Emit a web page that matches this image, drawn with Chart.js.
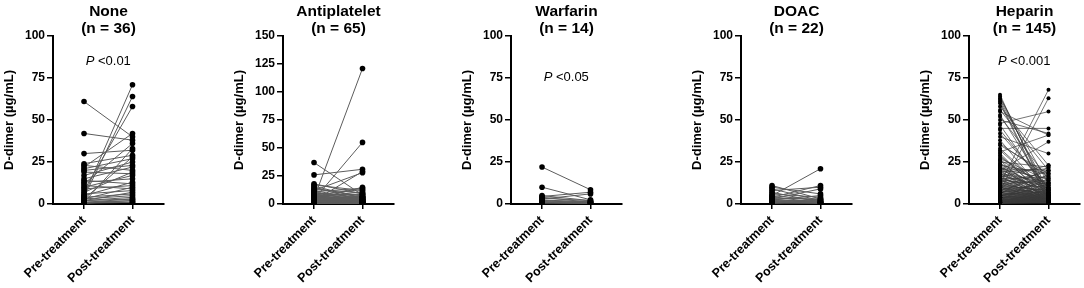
<!DOCTYPE html>
<html>
<head>
<meta charset="utf-8">
<script src="https://cdn.jsdelivr.net/npm/chart.js@4/dist/chart.umd.min.js"></script>
<style>
body { margin: 0; background: #fff; }
#wrap { position: relative; width: 1084px; height: 288px; }
.panel { position: absolute; top: 0; width: 168px; height: 288px; }
</style>
</head>
<body>
<div id="wrap">
  <div class="panel" style="left:0px"><canvas id="c0"></canvas></div>
  <div class="panel" style="left:230px"><canvas id="c1"></canvas></div>
  <div class="panel" style="left:458px"><canvas id="c2"></canvas></div>
  <div class="panel" style="left:688px"><canvas id="c3"></canvas></div>
  <div class="panel" style="left:916px"><canvas id="c4"></canvas></div>
</div>
<script>
var timepoints = ["Pre-treatment", "Post-treatment"];
var groupNames = ["None", "Antiplatelet", "Warfarin", "DOAC", "Heparin"];
var groupN = [36, 65, 14, 22, 145];
var pLabels = ["<0.01", "", "<0.05", "", "<0.001"];
var yMax = [100, 150, 100, 100, 100];

// paired D-dimer values, one entry per patient
var nonePre = [61, 42, 30, 24, 23, 22, 21, 20, 19, 17, 15, 14, 13, 12, 11, 10, 9, 8, 7, 6,
  5, 5, 4, 4, 3, 3, 3, 2, 2, 2, 1, 1, 1, 1, 0.5, 0.5];
var nonePost = [40, 38, 32, 29, 20, 42, 27, 23, 18, 25, 22, 12, 15, 36, 9, 17, 11, 58, 19, 8,
  71, 13, 64, 6, 10, 28, 5, 7, 4, 3, 2, 33, 1, 3, 2, 1];

var antiPre = [37, 26, 18, 17, 16, 15, 14, 13, 12, 12,
  11, 11, 10, 10, 9, 9, 8, 8, 8, 7,
  7, 7, 6, 6, 6, 6, 5, 5, 5, 5,
  5, 4, 4, 4, 4, 4, 3, 3, 3, 3,
  3, 3, 2, 2, 2, 2, 2, 2, 2, 1.5,
  1.5, 1.5, 1, 1, 1, 1, 1, 1, 0.8, 0.8,
  0.5, 0.5, 0.5, 0.5, 0.3];
var antiPost = [8, 31, 9, 12, 5, 3, 7, 10, 28, 4,
  2, 14, 6, 3, 8, 1, 5, 13, 2, 4,
  9, 1, 6, 3, 11, 2, 121, 4, 1, 7,
  2, 55, 3, 5, 1, 15, 29, 2, 6, 1,
  4, 3, 9, 1, 5, 2, 3, 1, 7, 2,
  1, 4, 3, 1, 2, 6, 1, 2, 1, 3,
  2, 1, 0.5, 1, 0.5];

var warfPre = [22, 10, 5, 4.5, 4, 3.5, 3, 2.5, 2, 2, 1.5, 1, 1, 0.5];
var warfPost = [8.5, 2.5, 2, 7, 1, 2, 6, 1, 0.5, 1.5, 0.8, 1, 0.5, 0.3];

var doacPre = [11, 10, 9, 8, 7, 6, 5, 5, 4, 4, 3.5, 3, 3, 2.5, 2, 2, 1.5, 1, 1, 0.8, 0.5, 0.5];
var doacPost = [3, 6, 2, 10, 1, 4, 21, 2, 11, 1, 3, 9, 0.5, 5, 1, 2, 1, 3, 0.5, 1, 2, 0.5];

var hepPre = [65, 64, 63, 62, 61, 56, 55, 52, 50, 48, 47, 45, 42, 40, 38, 35, 33, 31, 30, 28, 27, 26, 25,
  12, 8, 20,
  24, 24, 23, 23, 22, 22, 21, 21, 20, 20,
  19, 19, 18, 18, 18, 17, 17, 16, 16, 16,
  15, 15, 15, 14, 14, 14, 13, 13, 13, 12,
  12, 12, 11, 11, 11, 10, 10, 10, 10, 9,
  9, 9, 9, 8, 8, 8, 8, 7, 7, 7,
  7, 7, 6, 6, 6, 6, 6, 5, 5, 5,
  5, 5, 5, 4, 4, 4, 4, 4, 4, 3,
  3, 3, 3, 3, 3, 3, 2.5, 2.5, 2.5, 2,
  2, 2, 2, 2, 2, 2, 1.5, 1.5, 1.5, 1.5,
  1.5, 1, 1, 1, 1, 1, 1, 1, 1, 0.8,
  0.8, 0.8, 0.7, 0.7, 0.6, 0.6, 0.5, 0.5, 0.5, 0.5,
  26, 29, 32, 36, 44, 53, 58, 60, 21];
var hepPost = [3, 5, 12, 8, 2, 20, 41, 15, 42, 55, 6, 45, 10, 30, 4, 18, 7, 41, 2, 9, 14, 1, 22,
  68, 63, 37,
  6, 12, 3, 18, 9, 2, 15, 5, 11, 1,
  8, 21, 4, 13, 7, 2, 10, 23, 5, 3,
  9, 1, 16, 6, 3, 12, 4, 19, 2, 7,
  2, 14, 5, 1, 8, 3, 20, 6, 2, 4,
  11, 1, 6, 2, 5, 17, 3, 4, 9, 1,
  13, 2, 3, 7, 1, 5, 22, 2, 4, 8,
  1, 3, 10, 2, 6, 1, 4, 15, 3, 2,
  5, 1, 3, 8, 2, 12, 1, 4, 2, 3,
  1, 6, 2, 4, 1, 18, 2, 1, 3, 7,
  1, 2, 1, 5, 3, 1, 9, 2, 1, 1,
  2, 1, 4, 1, 2, 1, 3, 1, 0.5, 2,
  11, 4, 6, 16, 9, 7, 23, 1, 20];

var preSets = [nonePre, antiPre, warfPre, doacPre, hepPre];
var postSets = [nonePost, antiPost, warfPost, doacPost, hepPost];

var FONT = '"Liberation Sans", Arial, Helvetica, sans-serif';

// pre -> post pairs joined by a line, gaps between patients
function buildPairs(pre, post) {
    var d = [];
    for (var i = 0; i < pre.length; i++) {
        d.push({ x: 0, y: pre[i] });
        d.push({ x: 1, y: post[i] });
        d.push({ x: 0.5, y: null });
    }
    return d;
}

// panel heading + P value text
var panelText = {
    id: "panelText",
    afterDraw: function(chart, args, opts) {
        var ctx = chart.ctx;
        var a = chart.chartArea;
        var cx = (a.left + a.right) / 2;
        ctx.save();
        ctx.fillStyle = "#000";
        ctx.textAlign = "center";
        ctx.textBaseline = "alphabetic";
        ctx.font = "bold 15.5px " + FONT;
        ctx.fillText(opts.title, cx, 15.5);
        ctx.fillText(opts.sub, cx, 33);
        if (opts.p) {
            var px = chart.scales.x.getPixelForValue(0.5);
            var py = chart.scales.y.getPixelForValue(opts.pAt);
            ctx.font = "italic 13px " + FONT;
            var w1 = ctx.measureText("P ").width;
            ctx.font = "13px " + FONT;
            var w2 = ctx.measureText(opts.p).width;
            var x0 = px - (w1 + w2) / 2;
            ctx.textAlign = "left";
            ctx.font = "italic 13px " + FONT;
            ctx.fillText("P", x0, py);
            ctx.font = "13px " + FONT;
            ctx.fillText(opts.p, x0 + w1, py);
        }
        ctx.restore();
    }
};

for (let k = 0; k < 5; k++) {
    const heparin = k === 4;
    new Chart(document.getElementById("c" + k), {
        type: "line",
        data: {
            datasets: [{
                data: buildPairs(preSets[k], postSets[k]),
                borderColor: heparin ? "#3a3a3a" : "#5c5c5c",
                borderWidth: heparin ? 0.7 : 1,
                pointRadius: heparin ? 2 : 2.8,
                pointBackgroundColor: "#000",
                pointBorderWidth: 0,
                spanGaps: false,
                tension: 0
            }]
        },
        options: {
            responsive: true,
            maintainAspectRatio: false,
            animation: false,
            layout: { padding: { top: 36, left: 0, right: 3, bottom: 0 } },
            plugins: {
                legend: { display: false },
                tooltip: { enabled: false },
                panelText: {
                    title: groupNames[k],
                    sub: "(n = " + groupN[k] + ")",
                    p: pLabels[k] || "",
                    pAt: k === 2 ? 73 : 82.7
                }
            },
            scales: {
                x: {
                    type: "linear",
                    min: -0.64,
                    max: 1.65,
                    afterBuildTicks: function(scale) {
                        scale.ticks = [{ value: 0 }, { value: 1 }];
                    },
                    afterFit: function(scale) { scale.height = 84; },
                    ticks: {
                        autoSkip: false,
                        minRotation: 45,
                        maxRotation: 45,
                        padding: 4,
                        color: "#000",
                        font: { family: FONT, size: 12.5, weight: "bold" },
                        callback: function(v) { return timepoints[v] || ""; }
                    },
                    grid: { drawOnChartArea: false, drawTicks: true, tickLength: 5, color: "#000", lineWidth: 1.5 },
                    border: { display: true, color: "#000", width: 2 }
                },
                y: {
                    min: 0,
                    max: yMax[k],
                    afterFit: function(scale) { scale.width = 53; },
                    ticks: {
                        stepSize: 25,
                        padding: 2,
                        color: "#000",
                        font: { family: FONT, size: 12, weight: "bold" }
                    },
                    title: {
                        display: true,
                        text: "D-dimer (\u00b5g/mL)",
                        color: "#000",
                        padding: { top: 2, bottom: 0 },
                        font: { family: FONT, size: 13, weight: "bold" }
                    },
                    grid: { drawOnChartArea: false, drawTicks: true, tickLength: 6, color: "#000", lineWidth: 1.5 },
                    border: { display: true, color: "#000", width: 2 }
                }
            }
        },
        plugins: [panelText]
    });
}
</script>
</body>
</html>
